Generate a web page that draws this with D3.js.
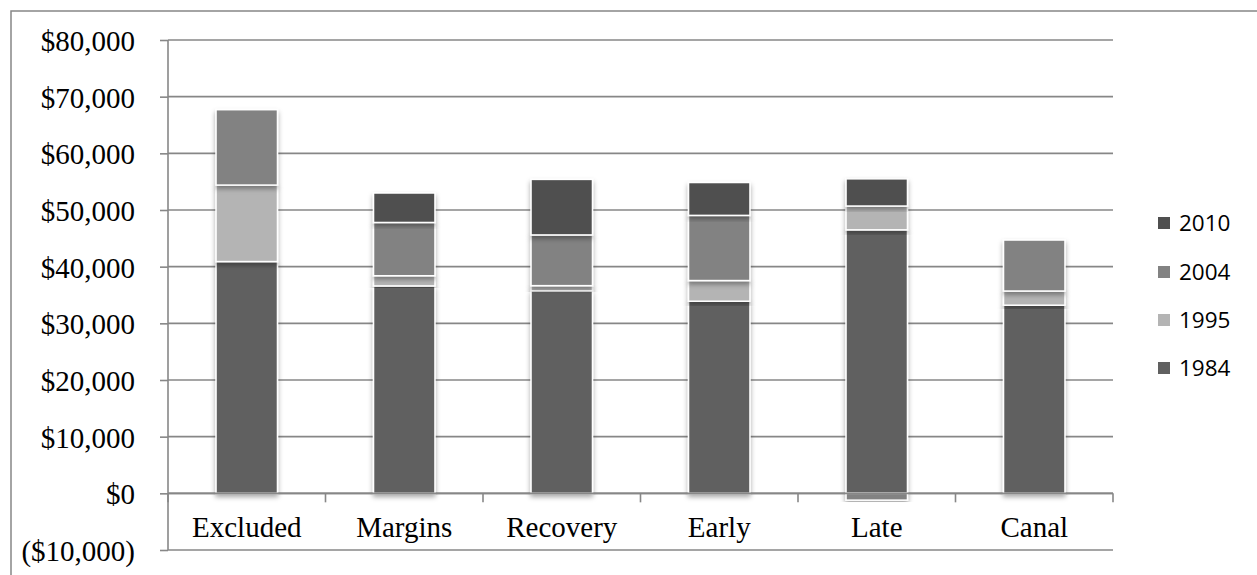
<!DOCTYPE html>
<html>
<head>
<meta charset="utf-8">
<script src="https://cdn.jsdelivr.net/npm/d3@7"></script>
<style>
  html, body { margin: 0; padding: 0; background: #fff; }
  svg { display: block; }
</style>
</head>
<body>
<svg id="chart" width="1257" height="575"></svg>
<script>
// ---- Data ----
const categories = ["Excluded", "Margins", "Recovery", "Early", "Late", "Canal"];
const seriesNames = ["1984", "1995", "2004", "2010"];
const values1984 = [40900, 36600, 35750, 33900, 46500, 33200];
const values1995 = [13500, 1800, 900, 3650, 4200, 2500];
const values2004 = [13300, 9400, 8950, 11500, -1200, 9000];
const values2010 = [0, 5200, 9800, 5800, 4800, 0];
const yTicks = [-10000, 0, 10000, 20000, 30000, 40000, 50000, 60000, 70000, 80000];
const legendOrder = ["2010", "2004", "1995", "1984"];

const colors = { "1984": "#606060", "1995": "#b4b4b4", "2004": "#828282", "2010": "#4f4f4f" };

const rows = categories.map((c, i) => ({
  category: c,
  "1984": values1984[i],
  "1995": values1995[i],
  "2004": values2004[i],
  "2010": values2010[i]
}));

const svg = d3.select("#chart");
const plot = { left: 168, right: 1113, top: 40, bottom: 550 };
const gridColor = "#878787";

// Outer frame
svg.append("rect")
  .attr("x", 11).attr("y", 11)
  .attr("width", 1300).attr("height", 700)
  .attr("fill", "none").attr("stroke", "#878787").attr("stroke-width", 1.5);

const x = d3.scaleBand().domain(categories).range([plot.left, plot.right])
  .paddingInner(0.61).paddingOuter(0.305);
const y = d3.scaleLinear().domain([-10000, 80000]).range([plot.bottom, plot.top]);

// Shadow filter
const defs = svg.append("defs");
const f = defs.append("filter").attr("id", "shadow")
  .attr("x", "-30%").attr("y", "-10%").attr("width", "160%").attr("height", "130%");
f.append("feDropShadow").attr("dx", 0).attr("dy", 3).attr("stdDeviation", 2.5)
  .attr("flood-color", "#000").attr("flood-opacity", 0.35);

// Gridlines
svg.append("g").selectAll("line").data(yTicks).join("line")
  .attr("x1", plot.left).attr("x2", plot.right)
  .attr("y1", d => y(d)).attr("y2", d => y(d))
  .attr("stroke", gridColor).attr("stroke-width", 1.6);

// Y axis
const fmt = d3.format(",");
const yAxis = d3.axisLeft(y).tickValues(yTicks).tickSize(8).tickPadding(25)
  .tickFormat(d => d < 0 ? "($" + fmt(-d) + ")" : "$" + fmt(d));
const gy = svg.append("g").attr("transform", `translate(${plot.left},0)`).call(yAxis);
gy.select(".domain").remove();
gy.selectAll(".tick line").attr("stroke", gridColor).attr("stroke-width", 1.6);
gy.selectAll(".tick text")
  .attr("font-family", "'Liberation Serif', 'Times New Roman', serif")
  .attr("font-size", 29).attr("fill", "#000").attr("dy", "0.36em");
svg.append("line")
  .attr("x1", plot.left).attr("x2", plot.left)
  .attr("y1", plot.top).attr("y2", plot.bottom)
  .attr("stroke", gridColor).attr("stroke-width", 1.6);

// Bars
const stack = d3.stack().keys(seriesNames).offset(d3.stackOffsetDiverging);
const stacked = stack(rows);
const barsG = svg.append("g");
stacked.forEach(layer => {
  barsG.append("g").selectAll("rect").data(layer).join("rect")
    .filter(d => d[1] !== d[0])
    .attr("x", d => x(d.data.category))
    .attr("width", x.bandwidth())
    .attr("y", d => y(Math.max(d[0], d[1])))
    .attr("height", d => Math.abs(y(d[0]) - y(d[1])))
    .attr("fill", colors[layer.key])
    .attr("stroke", "#fff").attr("stroke-width", 1.5)
    .attr("filter", "url(#shadow)");
});

// X axis at zero with boundary ticks
const step = x.step();
svg.append("line")
  .attr("x1", plot.left).attr("x2", plot.right)
  .attr("y1", y(0)).attr("y2", y(0))
  .attr("stroke", gridColor).attr("stroke-width", 1.6);
const boundaries = d3.range(categories.length + 1).map(i => plot.left + i * step);
svg.append("g").selectAll("line").data(boundaries).join("line")
  .attr("x1", d => d).attr("x2", d => d)
  .attr("y1", y(0)).attr("y2", y(0) + 9)
  .attr("stroke", gridColor).attr("stroke-width", 1.6);

svg.append("g").selectAll("text").data(categories).join("text")
  .attr("x", d => x(d) + x.bandwidth() / 2)
  .attr("y", 537)
  .attr("text-anchor", "middle")
  .attr("font-family", "'Liberation Serif', 'Times New Roman', serif")
  .attr("font-size", 29).attr("fill", "#000")
  .text(d => d);

// Legend
const legendY = [223, 272, 320, 368];
const lg = svg.append("g");
legendOrder.forEach((k, i) => {
  lg.append("rect").attr("x", 1158).attr("y", legendY[i] - 6)
    .attr("width", 12).attr("height", 12).attr("fill", colors[k]);
  lg.append("text").attr("x", 1179).attr("y", legendY[i])
    .attr("dy", "0.36em")
    .attr("font-family", "'Open Sans', 'Noto Sans', sans-serif")
    .attr("font-size", 22.5).attr("fill", "#000")
    .text(k);
});
</script>
</body>
</html>
